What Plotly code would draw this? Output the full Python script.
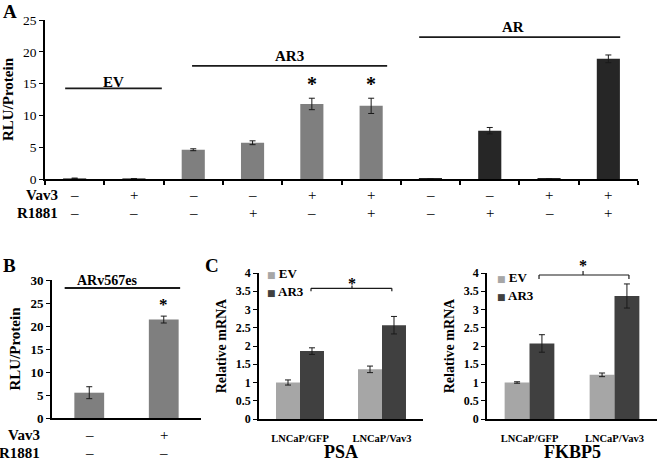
import plotly.graph_objects as go

# ---------------- data ----------------
# Panel A: luciferase reporter (RLU/Protein)
a_conditions = ["EV_1", "EV_2", "AR3_1", "AR3_2", "AR3_3", "AR3_4", "AR_1", "AR_2", "AR_3", "AR_4"]
a_group = ["EV", "EV", "AR3", "AR3", "AR3", "AR3", "AR", "AR", "AR", "AR"]
a_values = [0.1, 0.05, 4.6, 5.7, 11.8, 11.5, 0.05, 7.6, 0.05, 18.9]
a_errors = [0.05, 0.0, 0.15, 0.3, 0.9, 1.2, 0.0, 0.5, 0.0, 0.6]
a_vav3 = ["–", "+", "–", "–", "+", "+", "–", "–", "+", "+"]
a_r1881 = ["–", "–", "–", "+", "–", "+", "–", "+", "–", "+"]

# Panel B: ARv567es
b_conditions = ["Vav3-", "Vav3+"]
b_values = [5.5, 21.4]
b_errors = [1.3, 0.75]
b_vav3 = ["–", "+"]
b_r1881 = ["–", "–"]

# Panel C: relative mRNA
c_cells = ["LNCaP/GFP", "LNCaP/Vav3"]
psa_ev = [1.0, 1.36]
psa_ev_err = [0.07, 0.09]
psa_ar3 = [1.86, 2.57]
psa_ar3_err = [0.09, 0.24]
fkbp5_ev = [1.0, 1.21]
fkbp5_ev_err = [0.02, 0.05]
fkbp5_ar3 = [2.07, 3.37]
fkbp5_ar3_err = [0.24, 0.33]

# ---------------- styling ----------------
W, H = 660, 461
SERIF = "Liberation Serif"
group_colors = {"EV": "#7f7f7f", "AR3": "#7f7f7f", "AR": "#262626"}
EV_C, AR3_C = "#a6a6a6", "#404040"
ERR = dict(type="data", color="#1a1a1a", thickness=1, width=3)


def fx(px):
    return px / W


def fy(py):
    return 1 - py / H


fig = go.Figure()

fig.add_trace(go.Bar(
    x=a_conditions, y=a_values, width=0.39,
    marker=dict(color=[group_colors[g] for g in a_group], line=dict(width=0)),
    error_y=dict(array=a_errors, **ERR), xaxis="x", yaxis="y", showlegend=False))

fig.add_trace(go.Bar(
    x=b_conditions, y=b_values, width=0.4,
    marker=dict(color="#7f7f7f", line=dict(width=0)),
    error_y=dict(array=b_errors, **ERR), xaxis="x2", yaxis="y2", showlegend=False))

fig.add_trace(go.Bar(name="EV", x=c_cells, y=psa_ev, marker=dict(color=EV_C, line=dict(width=0)),
                     error_y=dict(array=psa_ev_err, **ERR), xaxis="x3", yaxis="y3", showlegend=False))
fig.add_trace(go.Bar(name="AR3", x=c_cells, y=psa_ar3, marker=dict(color=AR3_C, line=dict(width=0)),
                     error_y=dict(array=psa_ar3_err, **ERR), xaxis="x3", yaxis="y3", showlegend=False))
fig.add_trace(go.Bar(name="EV", x=c_cells, y=fkbp5_ev, marker=dict(color=EV_C, line=dict(width=0)),
                     error_y=dict(array=fkbp5_ev_err, **ERR), xaxis="x4", yaxis="y4", showlegend=False))
fig.add_trace(go.Bar(name="AR3", x=c_cells, y=fkbp5_ar3, marker=dict(color=AR3_C, line=dict(width=0)),
                     error_y=dict(array=fkbp5_ar3_err, **ERR), xaxis="x4", yaxis="y4", showlegend=False))

axis_common = dict(showline=True, linecolor="black", linewidth=1.6, showgrid=False, zeroline=False,
                   automargin=False)

layout = dict(
    width=W, height=H, margin=dict(l=0, r=0, t=0, b=0, pad=0, autoexpand=False),
    paper_bgcolor="white", plot_bgcolor="white",
    font=dict(family=SERIF, color="black"),
    barmode="group", bargap=0.415, bargroupgap=0,
    showlegend=False,
    xaxis=dict(domain=[fx(45), fx(638)], anchor="y", type="category",
               ticks="outside", tickson="boundaries", ticklen=4, tickwidth=1.5, tickcolor="black",
               showticklabels=False, **axis_common),
    yaxis=dict(domain=[fy(179), fy(20)], anchor="x", range=[0, 25], dtick=5,
               ticks="outside", ticklen=4, tickwidth=1.2, tickcolor="black",
               tickfont=dict(family=SERIF, size=13.5, color="black"),
               title=dict(text="RLU/Protein", font=dict(family=SERIF, size=15, weight="bold"), standoff=6),
               **axis_common),
    xaxis2=dict(domain=[fx(52), fx(201)], anchor="y2", type="category", ticks="",
                showticklabels=False, **axis_common),
    yaxis2=dict(domain=[fy(418), fy(280)], anchor="x2", range=[0, 30], dtick=5,
                ticks="outside", ticklen=4, tickwidth=1.2, tickcolor="black",
                tickfont=dict(family=SERIF, size=13, color="black", weight="bold"),
                title=dict(text="RLU/Protein", font=dict(family=SERIF, size=15, weight="bold"), standoff=6),
                **axis_common),
    xaxis3=dict(domain=[fx(259), fx(423)], anchor="y3", type="category", ticks="",
                ticklabelstandoff=9,
                tickfont=dict(family=SERIF, size=10.5, color="black", weight="bold"),
                **axis_common),
    yaxis3=dict(domain=[fy(419), fy(273)], anchor="x3", range=[0, 4], dtick=0.5,
                ticks="outside", ticklen=4, tickwidth=1.2, tickcolor="black",
                tickfont=dict(family=SERIF, size=12, color="black", weight="bold"),
                title=dict(text="Relative mRNA", font=dict(family=SERIF, size=14, weight="bold"), standoff=6),
                **axis_common),
    xaxis4=dict(domain=[fx(487), fx(657)], anchor="y4", type="category", ticks="",
                ticklabelstandoff=9,
                tickfont=dict(family=SERIF, size=10.5, color="black", weight="bold"),
                **axis_common),
    yaxis4=dict(domain=[fy(419), fy(273)], anchor="x4", range=[0, 4], dtick=0.5,
                ticks="outside", ticklen=4, tickwidth=1.2, tickcolor="black",
                tickfont=dict(family=SERIF, size=12, color="black", weight="bold"),
                title=dict(text="Relative mRNA", font=dict(family=SERIF, size=14, weight="bold"), standoff=6),
                **axis_common),
)
fig.update_layout(**layout)

ann = []
shapes = []


def text(x, y, s, size=15, bold=True, xref="paper", yref="paper", xanchor="center", yanchor="middle"):
    ann.append(dict(x=x, y=y, text=s, xref=xref, yref=yref, showarrow=False,
                    xanchor=xanchor, yanchor=yanchor,
                    font=dict(family=SERIF, size=size, color="black", weight="bold" if bold else "normal")))


def line(x0, x1, y0, y1, xref, yref, w=1.8):
    shapes.append(dict(type="line", x0=x0, x1=x1, y0=y0, y1=y1, xref=xref, yref=yref,
                       line=dict(color="#1a1a1a", width=w)))


# panel letters
text(fx(10), fy(12), "A", size=19)
text(fx(9), fy(265), "B", size=19)
text(fx(212), fy(265), "C", size=19)

# Panel A group lines and labels
line(-0.16, 1.47, 14.26, 14.26, "x", "y")
text(0.65, 15.3, "EV", xref="x", yref="y")
line(1.98, 5.27, 17.8, 17.8, "x", "y")
text(3.63, 19.4, "AR3", xref="x", yref="y")
line(5.81, 9.2, 22.3, 22.3, "x", "y")
text(7.39, 23.9, "AR", xref="x", yref="y")
for i in (4, 5):
    text(i, 14.9, "*", size=20, xref="x", yref="y")

# Panel A treatment rows
text(fx(60), fy(195), "Vav3", xanchor="right")
text(fx(60), fy(213), "R1881", xanchor="right")
for i, (v, r) in enumerate(zip(a_vav3, a_r1881)):
    text(i, fy(195), v, bold=False, xref="x")
    text(i, fy(213), r, bold=False, xref="x")

# Panel B
line(-0.33, 1.22, 28.26, 28.26, "x2", "y2")
text(0.24, 30.0, "ARv567es", size=14, xref="x2", yref="y2")
text(1.0, 24.6, "*", size=17, xref="x2", yref="y2")
text(fx(42), fy(435), "Vav3", xanchor="right")
text(fx(42), fy(453), "R1881", xanchor="right")
for i, (v, r) in enumerate(zip(b_vav3, b_r1881)):
    text(i, fy(435), v, bold=False, xref="x2")
    text(i, fy(453), r, bold=False, xref="x2")

# Panel C gene titles (below the cell-line tick labels)
text(0.5, fy(452), "PSA", size=18, xref="x3 domain")
text(0.5, fy(452), "FKBP5", size=18, xref="x4 domain")

# Panel C PSA bracket
line(0.134, 1.12, 3.58, 3.58, "x3", "y3", w=1.2)
line(0.134, 0.134, 3.58, 3.5, "x3", "y3", w=1.2)
line(1.12, 1.12, 3.58, 3.5, "x3", "y3", w=1.2)
line(0.634, 0.634, 3.58, 3.66, "x3", "y3", w=1.2)
text(0.634, 3.7, "*", size=16, xref="x3", yref="y3")

# Panel C FKBP5 bracket (extends slightly above axis range -> paper y)
line(0.112, 1.17, fy(275), fy(275), "x4", "paper", w=1.2)
line(0.112, 0.112, fy(275), fy(279), "x4", "paper", w=1.2)
line(1.17, 1.17, fy(275), fy(279), "x4", "paper", w=1.2)
line(0.63, 0.63, fy(275), fy(271), "x4", "paper", w=1.2)
text(0.63, fy(265), "*", size=16, xref="x4")

# Panel C legends
for (lx, ly, name, col) in [(265, 273, "EV", EV_C), (265, 291, "AR3", AR3_C),
                             (495, 277, "EV", EV_C), (495, 295, "AR3", AR3_C)]:
    text(fx(lx), fy(ly),
         f'<span style="color:{col};font-family:DejaVu Sans;font-size:9px">■</span> {name}',
         size=13, xanchor="left")

fig.update_layout(annotations=ann, shapes=shapes)
fig.write_html("out.html",
               config={"displayModeBar": False},
               post_script="document.body.style.margin='0';document.body.style.padding='0';"
                           "document.documentElement.style.overflow='hidden';")
